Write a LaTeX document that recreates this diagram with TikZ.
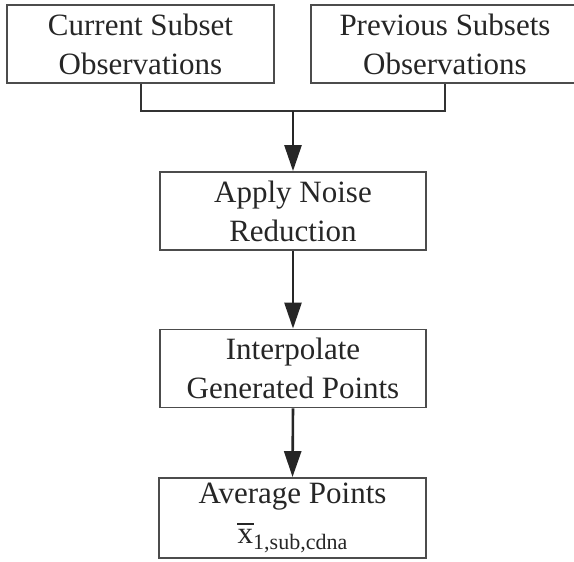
\documentclass[tikz,border=0pt]{standalone}
\usepackage{fontspec}
\setmainfont{Liberation Serif}
\usetikzlibrary{arrows.meta}
\newcommand{\barx}{\ooalign{x\cr\hidewidth\rule[0.6em]{0.52em}{1.6pt}\hidewidth\cr}}
\begin{document}
\begin{tikzpicture}[x=1pt,y=-1pt,
  procbox/.style={draw=black!70, line width=1.8pt, align=center, inner sep=0pt,
    font=\fontsize{31}{39}\selectfont, text=black!85},
  flow/.style={line width=2.6pt, draw=black!85, -{Triangle[length=26pt,width=17pt]}},
  joinline/.style={line width=2pt, draw=black!80}]
\useasboundingbox (0,0) rectangle (574,562);
\clip (0,0) rectangle (574,562);
\node[procbox, minimum width=267pt, minimum height=78pt] (b1) at (140.5,44) {Current Subset\\Observations};
\node[procbox, minimum width=268pt, minimum height=78pt] (b2) at (445,44) {Previous Subsets\\Observations};
\node[procbox, minimum width=266pt, minimum height=78pt] (b3) at (293,211) {Apply Noise\\Reduction};
\node[procbox, minimum width=266pt, minimum height=78pt] (b4) at (293,368.5) {Interpolate\\Generated Points};
\node[procbox, minimum width=267pt, minimum height=80pt] (b5) at (292.5,518) {Average Points\\[1pt]\barx\raisebox{-6pt}{\fontsize{22}{22}\selectfont 1,sub,cdna}};
\coordinate (m) at (293,111);
\draw[joinline] (b1.south) |- (m) -| (b2.south);
\draw[flow] (m) -- (b3.north);
\draw[flow] (b3.south) -- (b4.north);
\draw[flow] (b4.south) -- (b5.north);
\end{tikzpicture}
\end{document}
